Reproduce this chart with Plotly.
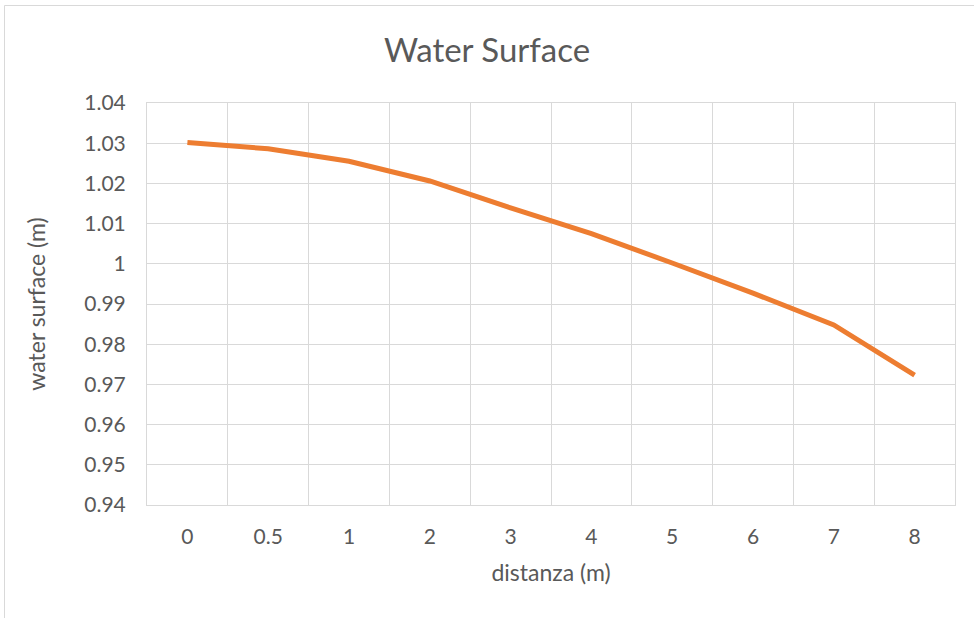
import plotly.graph_objects as go

# Distance stations (categorical) and measured water surface elevation
distanza = ["0", "0.5", "1", "2", "3", "4", "5", "6", "7", "8"]
water_surface = [1.0302, 1.0286, 1.0255, 1.0206, 1.0139, 1.0075, 1.0002, 0.9927, 0.9848, 0.9723]

y_ticks = [0.94, 0.95, 0.96, 0.97, 0.98, 0.99, 1.00, 1.01, 1.02, 1.03, 1.04]
y_tick_text = ["0.94", "0.95", "0.96", "0.97", "0.98", "0.99", "1", "1.01", "1.02", "1.03", "1.04"]

W, H = 974, 618
L, R, T, B = 147, 19, 103, 113
pw, ph = W - L - R, H - T - B

FONT = "Lato, 'Open Sans', sans-serif"
TXT = "#595959"
GRID = "#d9d9d9"

fig = go.Figure()
fig.add_trace(go.Scatter(
    x=distanza, y=water_surface, mode="lines",
    line=dict(color="#ED7D31", width=5, shape="linear"),
    showlegend=False, hoverinfo="x+y",
))

def px_x(p):
    return (p - L) / pw

def px_y(p):
    return (H - B - p) / ph

fig.update_layout(
    width=W, height=H,
    margin=dict(l=L, r=R, t=T, b=B),
    paper_bgcolor="white", plot_bgcolor="white",
    font=dict(family=FONT, color=TXT, size=21),
    title=dict(text="Water Surface", x=0.5, xanchor="center",
               y=1 - 50 / H, yanchor="middle",
               font=dict(family=FONT, size=33, color=TXT)),
    xaxis=dict(
        type="category", tickson="boundaries", range=[-0.5, 9.5],
        showgrid=True, gridcolor=GRID, gridwidth=1,
        showline=True, linecolor=GRID, linewidth=1, mirror=True,
        ticks="", ticklabelstandoff=13,
        tickfont=dict(size=21, color=TXT),
        title=dict(text="distanza (m)", font=dict(size=23, color=TXT), standoff=17),
        zeroline=False,
    ),
    yaxis=dict(
        range=[0.94, 1.04], tickvals=y_ticks, ticktext=y_tick_text,
        showgrid=True, gridcolor=GRID, gridwidth=1,
        showline=True, linecolor=GRID, linewidth=1, mirror=True,
        ticks="", ticklabelstandoff=16,
        tickfont=dict(size=21, color=TXT),
        title=dict(text="water surface (m)", font=dict(size=23, color=TXT), standoff=32),
        zeroline=False,
    ),
    shapes=[dict(
        type="rect", xref="paper", yref="paper",
        x0=px_x(4.5), x1=px_x(985), y0=px_y(5.5), y1=px_y(630),
        line=dict(color="#d9d9d9", width=1), fillcolor="rgba(0,0,0,0)", layer="below",
    )],
)

fig.write_html("out.html")
